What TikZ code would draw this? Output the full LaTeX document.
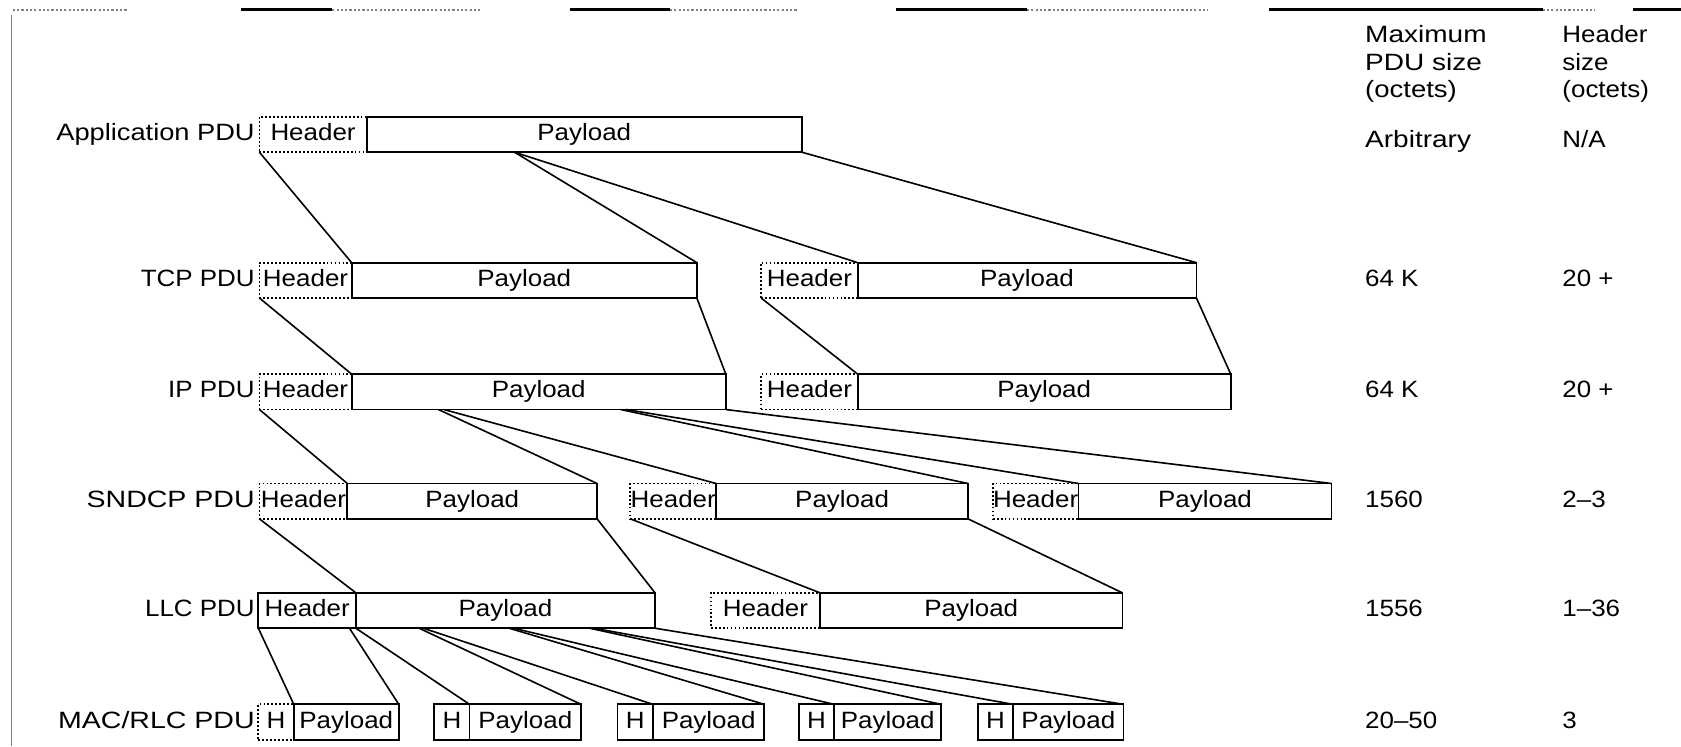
\documentclass[tikz,border=0pt]{standalone}
\usepackage{graphicx}
\usepackage{fontspec}
\setmainfont{Liberation Sans}[FakeStretch=1.1]
\newcommand{\pdufont}{\fontsize{11}{13}\selectfont}
\newcommand{\mkpdu}[8]{%
  \pgfmathsetmacro{\hdw}{(#3-#2)*0.5}%
  \pgfmathsetmacro{\pyw}{(#4-#3)*0.5}%
  \node[#8, minimum width=\hdw pt, anchor=north west] (#1h) at (#2,#5) {#6};%
  \node[paybox, minimum width=\pyw pt, anchor=north west] (#1p) at (#3,#5) {#7};%
}
\begin{document}
\begin{tikzpicture}[x=0.5pt,y=-0.5pt,
  box/.style={draw, line width=0.85pt, inner sep=0pt, outer sep=0pt,
    minimum height=16.5pt, text height=8pt, text depth=2.3pt, font=\pdufont},
  hdrdot/.style={box, densely dotted},
  hdrsolid/.style={box},
  paybox/.style={box},
  lbl/.style={inner sep=0pt, anchor=east, text height=8pt, text depth=2.3pt, font=\pdufont},
  val/.style={inner sep=0pt, anchor=west, text height=8pt, text depth=2.3pt, font=\pdufont},
  colhead/.style={inner sep=0pt, anchor=north west, align=left, font=\pdufont},
  link/.style={line width=0.75pt},
  topthick/.style={line width=1.4pt},
  topdot/.style={line width=1pt, gray, densely dotted},
  frameline/.style={line width=0.5pt, gray}]
\useasboundingbox (0,0) rectangle (1568,696);

% scan frame remnants
\draw[topdot] (12,9) -- (120,9);
\draw[topthick] (225,9) -- (310,9); \draw[topdot] (310,9) -- (450,9);
\draw[topthick] (532,9) -- (625,9); \draw[topdot] (625,9) -- (745,9);
\draw[topthick] (836,9) -- (958,9); \draw[topdot] (958,9) -- (1127,9);
\draw[topthick] (1184,9) -- (1439,9); \draw[topdot] (1439,9) -- (1488,9);
\draw[topthick] (1523,9) -- (1568,9);
\draw[frameline] (11,14) -- (11,696);

% column heads
\node[colhead] (hmax) at (1273,23) {\scalebox{1.08}[1]{Maximum}\\\scalebox{1.08}[1]{PDU size}\\\scalebox{1.06}[1]{(octets)}};
\node[colhead] (hhdr) at (1457,23) {Header\\size\\(octets)};

% rows
\mkpdu{app}{242}{342}{748}{109}{Header}{Payload}{hdrdot}
\mkpdu{tcpa}{242}{328}{650}{245}{Header}{Payload}{hdrdot}
\mkpdu{tcpb}{710}{800}{1116}{245}{Header}{Payload}{hdrdot}
\mkpdu{ipa}{242}{328}{677}{349}{Header}{Payload}{hdrdot}
\mkpdu{ipb}{710}{800}{1148}{349}{Header}{Payload}{hdrdot}
\mkpdu{sna}{242}{324}{557}{451}{Header}{Payload}{hdrdot}
\mkpdu{snb}{588}{668}{903}{451}{Header}{Payload}{hdrdot}
\mkpdu{snc}{926}{1006}{1242}{451}{Header}{Payload}{hdrdot}
\mkpdu{llca}{241}{332}{611}{553}{Header}{Payload}{hdrsolid}
\mkpdu{llcb}{663}{765}{1047}{553}{Header}{Payload}{hdrdot}
\mkpdu{maca}{241}{274}{372}{657}{H}{Payload}{hdrdot}
\mkpdu{macb}{405}{438}{542}{657}{H}{Payload}{hdrsolid}
\mkpdu{macc}{576}{609}{713}{657}{H}{Payload}{hdrsolid}
\mkpdu{macd}{745}{778}{878}{657}{H}{Payload}{hdrsolid}
\mkpdu{mace}{912}{945}{1048}{657}{H}{Payload}{hdrsolid}

% row labels
\node[lbl] (lapp) at (238,125.5) {\scalebox{1.05}[1]{Application PDU}};
\node[lbl] (ltcp) at (238,261.5) {TCP PDU};
\node[lbl] (lip)  at (238,365.5) {IP PDU};
\node[lbl] (lsn)  at (238,467.5) {\scalebox{1.1}[1]{SNDCP PDU}};
\node[lbl] (lllc) at (238,569.5) {LLC PDU};
\node[lbl] (lmac) at (238,673.5) {\scalebox{1.1}[1]{MAC/RLC PDU}};

% values
\node[val] (vapp1) at (1273,132) {\scalebox{1.08}[1]{Arbitrary}};
\node[val] (vapp2) at (1457,132) {N/A};
\node[val] (vtcp1) at (1273,261.5) {64 K};
\node[val] (vtcp2) at (1457,261.5) {20 +};
\node[val] (vip1)  at (1273,365.5) {64 K};
\node[val] (vip2)  at (1457,365.5) {20 +};
\node[val] (vsn1)  at (1273,467.5) {1560};
\node[val] (vsn2)  at (1457,467.5) {2--3};
\node[val] (vllc1) at (1273,569.5) {1556};
\node[val] (vllc2) at (1457,569.5) {1--36};
\node[val] (vmac1) at (1273,673.5) {20--50};
\node[val] (vmac2) at (1457,673.5) {3};

% split points
\coordinate (appA) at (480,142);
\coordinate (ipA1) at (409,382);
\coordinate (ipA2) at (414,382);
\coordinate (ipB1) at (579,382);
\coordinate (ipB2) at (584,382);
\coordinate (lA1) at (326,586);
\coordinate (lB1) at (391,586);
\coordinate (lB2) at (395,586);
\coordinate (lC1) at (475,586);
\coordinate (lC2) at (479,586);
\coordinate (lD1) at (550,586);
\coordinate (lD2) at (554,586);

% App -> TCP
\draw[link] (apph.south west) -- (tcpap.north west);
\draw[link] (appA) -- (tcpap.north east);
\draw[link] (appA) -- (tcpbp.north west);
\draw[link] (appp.south east) -- (tcpbp.north east);
% TCP -> IP
\draw[link] (tcpah.south west) -- (ipap.north west);
\draw[link] (tcpap.south east) -- (ipap.north east);
\draw[link] (tcpbh.south west) -- (ipbp.north west);
\draw[link] (tcpbp.south east) -- (ipbp.north east);
% IP -> SNDCP
\draw[link] (ipah.south west) -- (snap.north west);
\draw[link] (ipA1) -- (snap.north east);
\draw[link] (ipA2) -- (snbp.north west);
\draw[link] (ipB1) -- (snbp.north east);
\draw[link] (ipB2) -- (sncp.north west);
\draw[link] (ipap.south east) -- (sncp.north east);
% SNDCP -> LLC
\draw[link] (snah.south west) -- (llcap.north west);
\draw[link] (snap.south east) -- (llcap.north east);
\draw[link] (snbh.south west) -- (llcbp.north west);
\draw[link] (snbp.south east) -- (llcbp.north east);
% LLC -> MAC
\draw[link] (llcah.south west) -- (macap.north west);
\draw[link] (lA1) -- (macap.north east);
\draw[link] (llcap.south west) -- (macbp.north west);
\draw[link] (lB1) -- (macbp.north east);
\draw[link] (lB2) -- (maccp.north west);
\draw[link] (lC1) -- (maccp.north east);
\draw[link] (lC2) -- (macdp.north west);
\draw[link] (lD1) -- (macdp.north east);
\draw[link] (lD2) -- (macep.north west);
\draw[link] (llcap.south east) -- (macep.north east);
\end{tikzpicture}
\end{document}
